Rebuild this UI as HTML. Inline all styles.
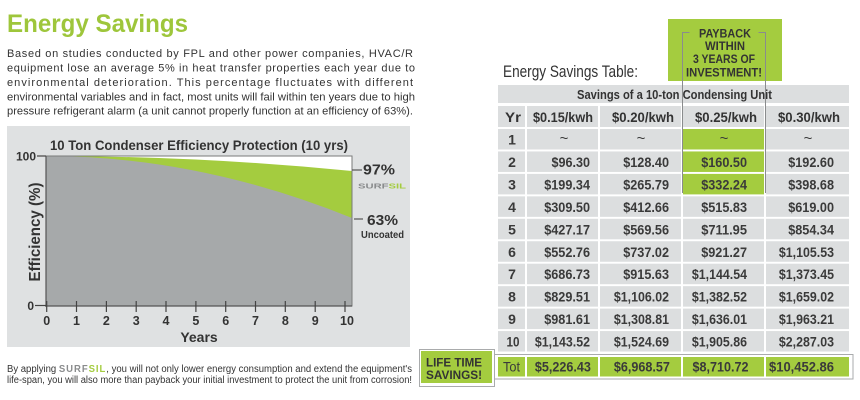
<!DOCTYPE html>
<html>
<head>
<meta charset="utf-8">
<style>
  html, body { margin:0; padding:0; background:#ffffff; }
  body { width:860px; height:400px; overflow:hidden; }
  svg { display:block; }
  text { font-family: "Liberation Sans", Arial, sans-serif; }
</style>
</head>
<body>
<svg width="860" height="400" viewBox="0 0 860 400" xmlns="http://www.w3.org/2000/svg">
  <rect x="0" y="0" width="860" height="400" fill="#ffffff"/>

  <!-- Heading -->
  <text x="7" y="32" font-size="25" font-weight="bold" fill="#9ec63b" textLength="181" lengthAdjust="spacingAndGlyphs">Energy Savings</text>

  <!-- Paragraph -->
  <g font-size="11" fill="#333333">
    <text x="7" y="57" textLength="406" lengthAdjust="spacing">Based on studies conducted by FPL and other power companies, HVAC/R</text>
    <text x="7" y="71.5" textLength="408" lengthAdjust="spacing">equipment lose an average 5% in heat transfer properties each year due to</text>
    <text x="7" y="86" textLength="406" lengthAdjust="spacing">environmental deterioration. This percentage fluctuates with different</text>
    <text x="7" y="100.3" textLength="408" lengthAdjust="spacingAndGlyphs">environmental variables and in fact, most units will fail within ten years due to high</text>
    <text x="7" y="114.5" textLength="406" lengthAdjust="spacingAndGlyphs">pressure refrigerant alarm (a unit cannot properly function at an efficiency of 63%).</text>
  </g>

  <!-- Chart panel -->
  <rect x="7" y="126" width="403" height="221" fill="#dfe1e2"/>
  <text x="50" y="150" font-size="14" font-weight="bold" fill="#333333" textLength="298" lengthAdjust="spacingAndGlyphs">10 Ton Condenser Efficiency Protection (10 yrs)</text>

  <!-- plot area -->
  <rect x="46" y="156" width="306" height="150" fill="#ffffff"/>
  <path d="M46,156 Q199,156 352,171 L352,306 L46,306 Z" fill="#a4cc3f"/>
  <path d="M46,156 Q199,156 352,218 L352,306 L46,306 Z" fill="#a6a9aa"/>
  <rect x="46" y="156" width="306" height="150" fill="none" stroke="#7a7a7a" stroke-width="1"/>
  <line x1="46" y1="156" x2="46" y2="307" stroke="#555" stroke-width="1.2"/>
  <line x1="46" y1="306" x2="352" y2="306" stroke="#555" stroke-width="1.2"/>

  <!-- y ticks/labels -->
  <line x1="37" y1="156" x2="46" y2="156" stroke="#444" stroke-width="1.2"/>
  <text x="36" y="160.5" font-size="12" font-weight="bold" fill="#333" text-anchor="end">100</text>
  <line x1="35" y1="305.5" x2="46" y2="305.5" stroke="#444" stroke-width="1.2"/>
  <text x="34" y="310" font-size="12" font-weight="bold" fill="#333" text-anchor="end">0</text>
  <text transform="translate(40,232) rotate(-90)" font-size="16" font-weight="bold" fill="#333" text-anchor="middle" textLength="99" lengthAdjust="spacingAndGlyphs">Efficiency (%)</text>

  <!-- x ticks -->
  <g stroke="#444" stroke-width="1.2">
    <line x1="46.7" y1="301" x2="46.7" y2="312"/>
    <line x1="76.5" y1="301" x2="76.5" y2="312"/>
    <line x1="106.4" y1="301" x2="106.4" y2="312"/>
    <line x1="136.2" y1="301" x2="136.2" y2="312"/>
    <line x1="166" y1="301" x2="166" y2="312"/>
    <line x1="195.9" y1="301" x2="195.9" y2="312"/>
    <line x1="225.7" y1="301" x2="225.7" y2="312"/>
    <line x1="255.5" y1="301" x2="255.5" y2="312"/>
    <line x1="285.3" y1="301" x2="285.3" y2="312"/>
    <line x1="315.2" y1="301" x2="315.2" y2="312"/>
    <line x1="345" y1="301" x2="345" y2="312"/>
  </g>
  <g font-size="12.5" font-weight="bold" fill="#333" text-anchor="middle">
    <text x="46.7" y="325">0</text>
    <text x="76.5" y="325">1</text>
    <text x="106.4" y="325">2</text>
    <text x="136.2" y="325">3</text>
    <text x="166" y="325">4</text>
    <text x="195.9" y="325">5</text>
    <text x="225.7" y="325">6</text>
    <text x="255.5" y="325">7</text>
    <text x="285.3" y="325">8</text>
    <text x="315.2" y="325">9</text>
    <text x="347" y="325">10</text>
  </g>
  <text x="199" y="342" font-size="14" font-weight="bold" fill="#333" text-anchor="middle">Years</text>

  <!-- right labels -->
  <line x1="352" y1="170" x2="362" y2="170" stroke="#555" stroke-width="1.2"/>
  <text x="363" y="174.5" font-size="15" font-weight="bold" fill="#333" textLength="32" lengthAdjust="spacingAndGlyphs">97%</text>
  <text x="358" y="188.5" font-size="7.5" font-weight="bold" textLength="48" lengthAdjust="spacingAndGlyphs"><tspan fill="#8a8c8d">SURF</tspan><tspan fill="#a4cc3f">SIL</tspan></text>
  <line x1="354" y1="219" x2="363" y2="219" stroke="#555" stroke-width="1.2"/>
  <text x="367" y="225" font-size="15" font-weight="bold" fill="#333" textLength="31" lengthAdjust="spacingAndGlyphs">63%</text>
  <text x="361" y="238" font-size="10" font-weight="bold" fill="#333" textLength="43" lengthAdjust="spacingAndGlyphs">Uncoated</text>

  <!-- Bottom text -->
  <g font-size="10" fill="#333333">
    <text x="7" y="372" textLength="405" lengthAdjust="spacingAndGlyphs">By applying <tspan font-weight="bold" fill="#8a8c8d" letter-spacing="1">SURF</tspan><tspan font-weight="bold" fill="#a4cc3f" letter-spacing="1">SIL</tspan>, you will not only lower energy consumption and extend the equipment's</text>
    <text x="7" y="383" textLength="405" lengthAdjust="spacingAndGlyphs">life-span, you will also more than payback your initial investment to protect the unit from corrosion!</text>
  </g>

  <!-- Table title -->
  <text x="503" y="77" font-size="17" fill="#333333" textLength="135" lengthAdjust="spacingAndGlyphs">Energy Savings Table:</text>

  <!-- Payback box -->
  <rect x="668" y="19" width="114" height="62" fill="#a4cc3f"/>
  <g font-size="12" font-weight="bold" fill="#333" text-anchor="middle">
    <text x="725" y="37.5" textLength="52" lengthAdjust="spacingAndGlyphs">PAYBACK</text>
    <text x="725" y="50" textLength="40" lengthAdjust="spacingAndGlyphs">WITHIN</text>
    <text x="724" y="63" textLength="62" lengthAdjust="spacingAndGlyphs">3 YEARS OF</text>
    <text x="724" y="76.5" textLength="76" lengthAdjust="spacingAndGlyphs">INVESTMENT!</text>
  </g>

  <!-- Table header bar -->
  <rect x="498" y="85" width="351" height="18" fill="#dcdedf"/>
  <text x="674.5" y="99" font-size="13" font-weight="bold" fill="#333" text-anchor="middle" textLength="195" lengthAdjust="spacingAndGlyphs">Savings of a 10-ton Condensing Unit</text>

  <!-- Column headers -->
  <g fill="#dcdedf">
    <rect x="498" y="106" width="27" height="21"/>
    <rect x="527" y="106" width="71" height="21"/>
    <rect x="600" y="106" width="81" height="21"/>
    <rect x="683" y="106" width="81" height="21"/>
    <rect x="766" y="106" width="83" height="21"/>
  </g>
  <g font-size="14" font-weight="bold" fill="#333" text-anchor="middle">
    <text x="513" y="122" textLength="16" lengthAdjust="spacingAndGlyphs">Yr</text>
    <text x="563" y="122" textLength="60" lengthAdjust="spacingAndGlyphs">$0.15/kwh</text>
    <text x="643" y="122" textLength="62" lengthAdjust="spacingAndGlyphs">$0.20/kwh</text>
    <text x="726" y="122" textLength="62" lengthAdjust="spacingAndGlyphs">$0.25/kwh</text>
    <text x="809" y="122" textLength="62" lengthAdjust="spacingAndGlyphs">$0.30/kwh</text>
  </g>

  <!-- Row cells -->
  <g fill="#dcdedf">
    <rect x="498" y="129" width="27" height="20.5"/><rect x="527" y="129" width="71" height="20.5"/><rect x="600" y="129" width="81" height="20.5"/><rect x="683" y="129" width="81" height="20.5" fill="#a4cc3f"/><rect x="766" y="129" width="83" height="20.5"/>
    <rect x="498" y="151.45" width="27" height="20.5"/><rect x="527" y="151.45" width="71" height="20.5"/><rect x="600" y="151.45" width="81" height="20.5"/><rect x="683" y="151.45" width="81" height="20.5" fill="#a4cc3f"/><rect x="766" y="151.45" width="83" height="20.5"/>
    <rect x="498" y="173.9" width="27" height="20.5"/><rect x="527" y="173.9" width="71" height="20.5"/><rect x="600" y="173.9" width="81" height="20.5"/><rect x="683" y="173.9" width="81" height="20.5" fill="#a4cc3f"/><rect x="766" y="173.9" width="83" height="20.5"/>
    <rect x="498" y="196.35" width="27" height="20.5"/><rect x="527" y="196.35" width="71" height="20.5"/><rect x="600" y="196.35" width="81" height="20.5"/><rect x="683" y="196.35" width="81" height="20.5"/><rect x="766" y="196.35" width="83" height="20.5"/>
    <rect x="498" y="218.8" width="27" height="20.5"/><rect x="527" y="218.8" width="71" height="20.5"/><rect x="600" y="218.8" width="81" height="20.5"/><rect x="683" y="218.8" width="81" height="20.5"/><rect x="766" y="218.8" width="83" height="20.5"/>
    <rect x="498" y="241.25" width="27" height="20.5"/><rect x="527" y="241.25" width="71" height="20.5"/><rect x="600" y="241.25" width="81" height="20.5"/><rect x="683" y="241.25" width="81" height="20.5"/><rect x="766" y="241.25" width="83" height="20.5"/>
    <rect x="498" y="263.7" width="27" height="20.5"/><rect x="527" y="263.7" width="71" height="20.5"/><rect x="600" y="263.7" width="81" height="20.5"/><rect x="683" y="263.7" width="81" height="20.5"/><rect x="766" y="263.7" width="83" height="20.5"/>
    <rect x="498" y="286.15" width="27" height="20.5"/><rect x="527" y="286.15" width="71" height="20.5"/><rect x="600" y="286.15" width="81" height="20.5"/><rect x="683" y="286.15" width="81" height="20.5"/><rect x="766" y="286.15" width="83" height="20.5"/>
    <rect x="498" y="308.6" width="27" height="20.5"/><rect x="527" y="308.6" width="71" height="20.5"/><rect x="600" y="308.6" width="81" height="20.5"/><rect x="683" y="308.6" width="81" height="20.5"/><rect x="766" y="308.6" width="83" height="20.5"/>
    <rect x="498" y="331.05" width="27" height="20.5"/><rect x="527" y="331.05" width="71" height="20.5"/><rect x="600" y="331.05" width="81" height="20.5"/><rect x="683" y="331.05" width="81" height="20.5"/><rect x="766" y="331.05" width="83" height="20.5"/>
  </g>

  <!-- Tot row outline + Life time box -->
  <rect x="494" y="354.5" width="359" height="24.5" fill="#ffffff" stroke="#a9abac" stroke-width="1"/>
  <g fill="#a4cc3f">
    <rect x="498" y="357" width="27" height="19.5"/>
    <rect x="527" y="357" width="71" height="19.5"/>
    <rect x="600" y="357" width="81" height="19.5"/>
    <rect x="683" y="357" width="81" height="19.5"/>
    <rect x="766" y="357" width="83" height="19.5"/>
  </g>
  <rect x="419.5" y="349.5" width="75" height="37" fill="#ffffff" stroke="#a9abac" stroke-width="1"/>
  <rect x="421" y="351" width="71" height="32" fill="#a4cc3f"/>
  <g font-size="12" font-weight="bold" fill="#333">
    <text x="426" y="366.5" textLength="56" lengthAdjust="spacingAndGlyphs">LIFE TIME</text>
    <text x="426" y="379" textLength="56" lengthAdjust="spacingAndGlyphs">SAVINGS!</text>
  </g>

  <!-- Row text -->
  <g font-size="14" font-weight="bold" fill="#3a3a3a">
    <!-- Yr column -->
    <g text-anchor="middle">
      <text x="512" y="144.5">1</text>
      <text x="512" y="167">2</text>
      <text x="512" y="189.4">3</text>
      <text x="512" y="211.9">4</text>
      <text x="512" y="234.3">5</text>
      <text x="512" y="256.8">6</text>
      <text x="512" y="279.2">7</text>
      <text x="512" y="301.7">8</text>
      <text x="512" y="324.1">9</text>
      <text x="513" y="346.6" textLength="13" lengthAdjust="spacingAndGlyphs">10</text>
      <text x="511.5" y="371.5" font-weight="normal" textLength="17" lengthAdjust="spacingAndGlyphs">Tot</text>
    </g>
    <!-- row 1 tildes -->
    <g text-anchor="middle" font-weight="normal" font-size="15">
      <text x="564" y="143">~</text>
      <text x="641" y="143">~</text>
      <text x="724" y="143">~</text>
      <text x="808" y="143">~</text>
    </g>
    <!-- row 2 -->
    <text x="551.5" y="167" textLength="38.5" lengthAdjust="spacingAndGlyphs">$96.30</text>
    <text x="623.2" y="167" textLength="45.8" lengthAdjust="spacingAndGlyphs">$128.40</text>
    <text x="701.2" y="167" textLength="45.8" lengthAdjust="spacingAndGlyphs">$160.50</text>
    <text x="788.2" y="167" textLength="45.8" lengthAdjust="spacingAndGlyphs">$192.60</text>
    <!-- row 3 -->
    <text x="544.2" y="189.4" textLength="45.8" lengthAdjust="spacingAndGlyphs">$199.34</text>
    <text x="623.2" y="189.4" textLength="45.8" lengthAdjust="spacingAndGlyphs">$265.79</text>
    <text x="701.2" y="189.4" textLength="45.8" lengthAdjust="spacingAndGlyphs">$332.24</text>
    <text x="788.2" y="189.4" textLength="45.8" lengthAdjust="spacingAndGlyphs">$398.68</text>
    <!-- row 4 -->
    <text x="544.2" y="211.9" textLength="45.8" lengthAdjust="spacingAndGlyphs">$309.50</text>
    <text x="623.2" y="211.9" textLength="45.8" lengthAdjust="spacingAndGlyphs">$412.66</text>
    <text x="701.2" y="211.9" textLength="45.8" lengthAdjust="spacingAndGlyphs">$515.83</text>
    <text x="788.2" y="211.9" textLength="45.8" lengthAdjust="spacingAndGlyphs">$619.00</text>
    <!-- row 5 -->
    <text x="544.2" y="234.3" textLength="45.8" lengthAdjust="spacingAndGlyphs">$427.17</text>
    <text x="623.2" y="234.3" textLength="45.8" lengthAdjust="spacingAndGlyphs">$569.56</text>
    <text x="701.2" y="234.3" textLength="45.8" lengthAdjust="spacingAndGlyphs">$711.95</text>
    <text x="788.2" y="234.3" textLength="45.8" lengthAdjust="spacingAndGlyphs">$854.34</text>
    <!-- row 6 -->
    <text x="544.2" y="256.8" textLength="45.8" lengthAdjust="spacingAndGlyphs">$552.76</text>
    <text x="623.2" y="256.8" textLength="45.8" lengthAdjust="spacingAndGlyphs">$737.02</text>
    <text x="701.2" y="256.8" textLength="45.8" lengthAdjust="spacingAndGlyphs">$921.27</text>
    <text x="778.9" y="256.8" textLength="55.1" lengthAdjust="spacingAndGlyphs">$1,105.53</text>
    <!-- row 7 -->
    <text x="544.2" y="279.2" textLength="45.8" lengthAdjust="spacingAndGlyphs">$686.73</text>
    <text x="623.2" y="279.2" textLength="45.8" lengthAdjust="spacingAndGlyphs">$915.63</text>
    <text x="691.9" y="279.2" textLength="55.1" lengthAdjust="spacingAndGlyphs">$1,144.54</text>
    <text x="778.9" y="279.2" textLength="55.1" lengthAdjust="spacingAndGlyphs">$1,373.45</text>
    <!-- row 8 -->
    <text x="544.2" y="301.7" textLength="45.8" lengthAdjust="spacingAndGlyphs">$829.51</text>
    <text x="613.9" y="301.7" textLength="55.1" lengthAdjust="spacingAndGlyphs">$1,106.02</text>
    <text x="691.9" y="301.7" textLength="55.1" lengthAdjust="spacingAndGlyphs">$1,382.52</text>
    <text x="778.9" y="301.7" textLength="55.1" lengthAdjust="spacingAndGlyphs">$1,659.02</text>
    <!-- row 9 -->
    <text x="544.2" y="324.1" textLength="45.8" lengthAdjust="spacingAndGlyphs">$981.61</text>
    <text x="613.9" y="324.1" textLength="55.1" lengthAdjust="spacingAndGlyphs">$1,308.81</text>
    <text x="691.9" y="324.1" textLength="55.1" lengthAdjust="spacingAndGlyphs">$1,636.01</text>
    <text x="778.9" y="324.1" textLength="55.1" lengthAdjust="spacingAndGlyphs">$1,963.21</text>
    <!-- row 10 -->
    <text x="534.9" y="346.6" textLength="55.1" lengthAdjust="spacingAndGlyphs">$1,143.52</text>
    <text x="613.9" y="346.6" textLength="55.1" lengthAdjust="spacingAndGlyphs">$1,524.69</text>
    <text x="691.9" y="346.6" textLength="55.1" lengthAdjust="spacingAndGlyphs">$1,905.86</text>
    <text x="778.9" y="346.6" textLength="55.1" lengthAdjust="spacingAndGlyphs">$2,287.03</text>
    <!-- Tot -->
    <text x="534.9" y="371.5" textLength="56" lengthAdjust="spacingAndGlyphs">$5,226.43</text>
    <text x="613.9" y="371.5" textLength="56" lengthAdjust="spacingAndGlyphs">$6,968.57</text>
    <text x="692.5" y="371.5" textLength="56" lengthAdjust="spacingAndGlyphs">$8,710.72</text>
    <text x="769" y="371.5" textLength="65" lengthAdjust="spacingAndGlyphs">$10,452.86</text>
  </g>

  <!-- Payback bracket lines -->
  <g stroke="#8a8c8d" stroke-width="1" fill="none">
    <path d="M689.5,32.5 L682.5,32.5 L682.5,193"/>
    <path d="M758.5,32.5 L765.5,32.5 L765.5,193"/>
  </g>
</svg>
</body>
</html>
